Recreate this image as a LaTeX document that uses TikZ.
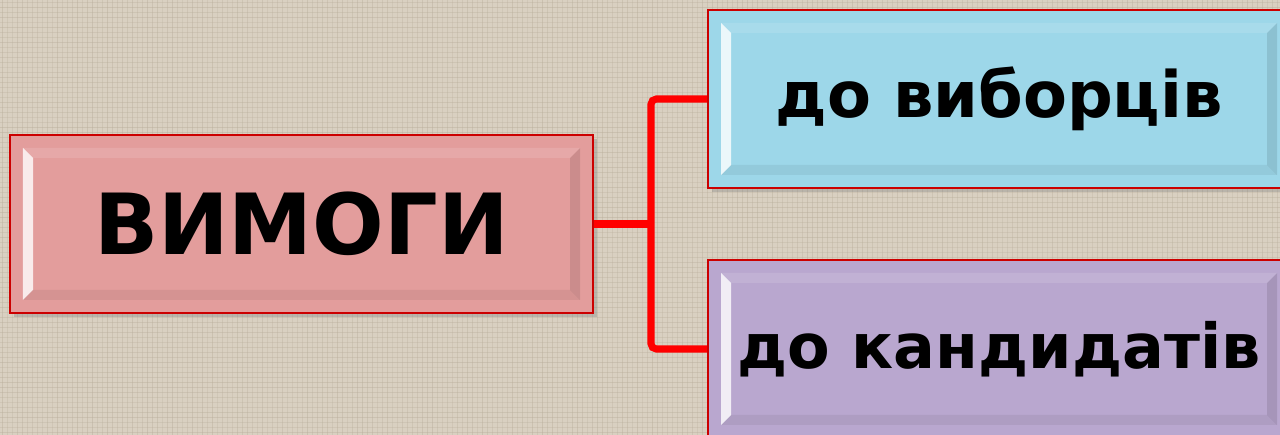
\documentclass[tikz,border=0pt]{standalone}
\usepackage{fontspec}
\setmainfont{DejaVu Sans}
\usetikzlibrary{shadows}

\definecolor{linen}{HTML}{D9D0C1}
\definecolor{linenthread}{HTML}{B8AD9A}
\definecolor{rosefill}{HTML}{E39D9C}
\definecolor{skyfill}{HTML}{9DD7E9}
\definecolor{lilacfill}{HTML}{B9A7CF}
\definecolor{rimred}{HTML}{CC0000}

\tikzset{
    bevelbox/.style={draw=rimred, line width=1.2pt, minimum width=11.64cm, minimum height=3.56cm,
        drop shadow={shadow xshift=2pt, shadow yshift=-2pt, opacity=.35},
        font=\bfseries, align=center,
        path picture={
            % left highlight
            \fill[white, opacity=.8] ([shift={(.26,.26)}]path picture bounding box.south west)
                -- ([shift={(.26,-.26)}]path picture bounding box.north west)
                -- ([shift={(.46,-.46)}]path picture bounding box.north west)
                -- ([shift={(.46,.46)}]path picture bounding box.south west) -- cycle;
            % top
            \fill[white, opacity=.12] ([shift={(.26,-.26)}]path picture bounding box.north west)
                -- ([shift={(-.26,-.26)}]path picture bounding box.north east)
                -- ([shift={(-.46,-.46)}]path picture bounding box.north east)
                -- ([shift={(.46,-.46)}]path picture bounding box.north west) -- cycle;
            % bottom
            \fill[black, opacity=.06] ([shift={(.26,.26)}]path picture bounding box.south west)
                -- ([shift={(-.26,.26)}]path picture bounding box.south east)
                -- ([shift={(-.46,.46)}]path picture bounding box.south east)
                -- ([shift={(.46,.46)}]path picture bounding box.south west) -- cycle;
            % right
            \fill[black, opacity=.1] ([shift={(-.26,.26)}]path picture bounding box.south east)
                -- ([shift={(-.26,-.26)}]path picture bounding box.north east)
                -- ([shift={(-.46,-.46)}]path picture bounding box.north east)
                -- ([shift={(-.46,.46)}]path picture bounding box.south east) -- cycle;
        }},
    branch/.style={draw=red, line width=4pt, rounded corners=3pt}
}

\begin{document}
\begin{tikzpicture}
    % фон
    \fill[linen] (0,0) rectangle (25.6,-8.7);
    \useasboundingbox (0,0) rectangle (25.6,-8.7);
    \clip (0,0) rectangle (25.6,-8.7);
    \pgfmathsetseed{7}
    \foreach \x in {0.05,0.15,...,25.6}
        \draw[linenthread, line width=.4pt, opacity=.25+.2*rnd] (\x,0) -- (\x,-8.7);
    \foreach \y in {0.05,0.15,...,8.7}
        \draw[linenthread, line width=.4pt, opacity=.25+.2*rnd] (0,-\y) -- (25.6,-\y);

    % головний блок
    \node[bevelbox, fill=rosefill, minimum width=11.66cm, font=\bfseries\fontsize{48}{52}\selectfont] (vymohy) at (6.03,-4.48) {ВИМОГИ};

    % до виборців
    \node[bevelbox, fill=skyfill, font=\bfseries\fontsize{36.4}{40}\selectfont] (vybortsi) at (19.98,-1.98) {до виборців};

    % до кандидатів
    \node[bevelbox, fill=lilacfill, font=\bfseries\fontsize{35.3}{40}\selectfont] (kandydaty) at (19.98,-6.98) {до кандидатів};

    % з'єднання
    \coordinate (split) at (13.02,-4.48);
    \draw[branch] (vymohy.east) -- (split);
    \draw[branch] (vybortsi.west) -| (split) |- (kandydaty.west);
\end{tikzpicture}
\end{document}
